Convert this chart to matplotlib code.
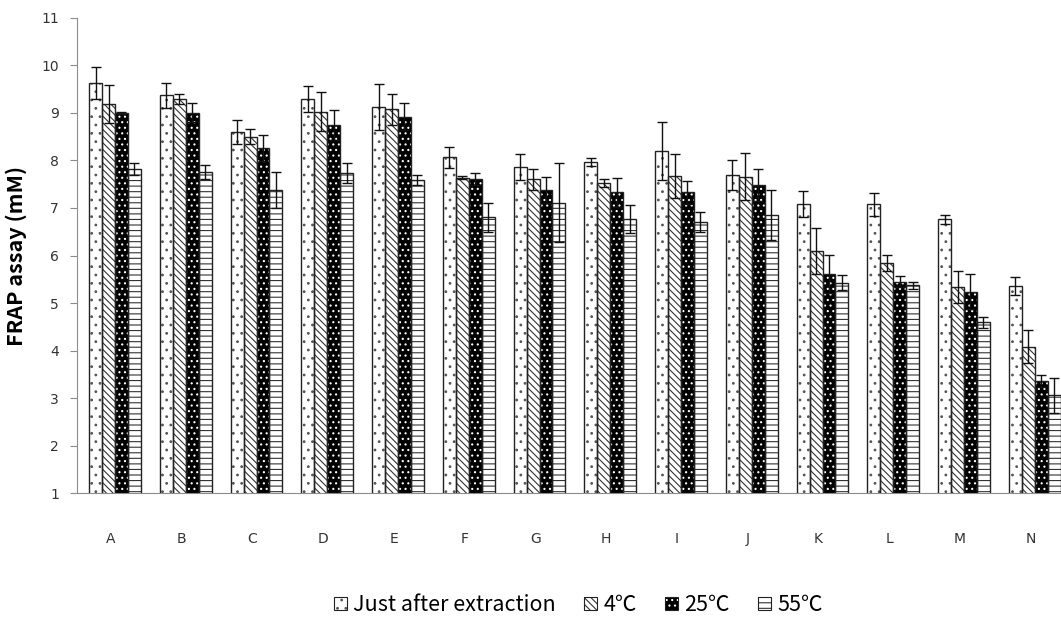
import numpy as np
import matplotlib.pyplot as plt
from matplotlib.patches import Patch
from matplotlib.legend_handler import HandlerTuple
from matplotlib.transforms import ScaledTranslation

plt.rcParams['hatch.linewidth'] = 0.8

# Samples and storage conditions
samples = ["A", "B", "C", "D", "E", "F", "G", "H", "I", "J", "K", "L", "M", "N"]
conditions = ["Just after extraction", "4\u2103", "25\u2103", "55\u2103"]

# FRAP values (mM)
just_after = [9.63, 9.37, 8.60, 9.29, 9.13, 8.07, 7.86, 7.97, 8.20, 7.69, 7.08, 7.08, 6.76, 5.36]
cold_4 = [9.19, 9.29, 8.50, 9.03, 9.08, 7.64, 7.60, 7.52, 7.67, 7.66, 6.10, 5.84, 5.33, 4.08]
room_25 = [9.00, 9.01, 8.26, 8.75, 8.92, 7.61, 7.38, 7.33, 7.33, 7.48, 5.61, 5.45, 5.24, 3.36]
hot_55 = [7.82, 7.76, 7.38, 7.73, 7.59, 6.80, 7.11, 6.77, 6.71, 6.85, 5.43, 5.37, 4.59, 3.06]

# standard deviations
err_just_after = [0.33, 0.26, 0.25, 0.27, 0.49, 0.22, 0.28, 0.09, 0.62, 0.32, 0.28, 0.24, 0.09, 0.19]
err_4 = [0.40, 0.11, 0.16, 0.41, 0.33, 0.03, 0.22, 0.08, 0.47, 0.50, 0.48, 0.17, 0.34, 0.35]
err_25 = [0.03, 0.19, 0.28, 0.32, 0.28, 0.12, 0.28, 0.31, 0.24, 0.34, 0.40, 0.12, 0.37, 0.12]
err_55 = [0.13, 0.15, 0.38, 0.21, 0.11, 0.31, 0.83, 0.30, 0.21, 0.53, 0.15, 0.08, 0.12, 0.37]

series = [just_after, cold_4, room_25, hot_55]
errors = [err_just_after, err_4, err_25, err_55]
# (face, hatch colour, hatch)
styles = [("white", "#555555", ".."),
          ("white", "#333333", "\\\\\\\\\\"),
          ("black", "white", "..."),
          ("white", "#333333", "---")]

fig = plt.figure(figsize=(10.61, 6.2), dpi=100)
ax = fig.add_axes([0.0726, 0.2048, 0.936, 0.7662])

x = np.arange(len(samples))
w = 0.183
for i, (vals, errs, (fc, hc, hatch)) in enumerate(zip(series, errors, styles)):
    pos = x + (i - 1.5) * w
    ax.bar(pos, vals, w, color=fc, edgecolor=hc, hatch=hatch, linewidth=0, zorder=2)
    ax.bar(pos, vals, w, fill=False, edgecolor="#222222", linewidth=1.0, zorder=3)
    ax.errorbar(pos, vals, yerr=errs, fmt="none", ecolor="#111111",
                elinewidth=1.0, capsize=3.5, capthick=1.0, zorder=4)

ax.set_xlim(-0.537, 13.5)
ax.set_ylim(1, 11)
ax.set_yticks(range(1, 12))
ax.set_xticks(x)
ax.set_xticklabels(samples)

for s in ["top", "right"]:
    ax.spines[s].set_visible(False)
ax.spines["left"].set_color("#8c8c8c")
ax.spines["bottom"].set_color("#8c8c8c")
ax.tick_params(axis="y", direction="out", length=5, color="#8c8c8c",
               labelsize=10, labelcolor="#333333", pad=8)
ax.tick_params(axis="x", length=0, labelsize=10, labelcolor="#333333", pad=28)
for lab in ax.get_xticklabels():
    lab.set_transform(lab.get_transform() + ScaledTranslation(-4 / 100, 0, fig.dpi_scale_trans))

ax.set_ylabel("FRAP assay (mM)", fontsize=15.5, fontweight="bold", labelpad=10,
              family=["Noto Sans CJK KR", "DejaVu Sans"])

handles = [Patch(facecolor=fc, edgecolor=hc, hatch=hatch, linewidth=0) for fc, hc, hatch in styles]
handles = [(h, Patch(fill=False, edgecolor="#222222", linewidth=0.8)) for h in handles]
leg = fig.legend(handles, conditions, loc="center", bbox_to_anchor=(0.545, 0.024),
                 ncol=4, frameon=False, handlelength=0.6, handleheight=0.6,
                 handletextpad=0.3, columnspacing=1.3,
                 handler_map={tuple: HandlerTuple(ndivide=1)},
                 prop={"family": ["Noto Sans CJK KR", "DejaVu Sans"], "size": 15.5})

fig.savefig("out.png", dpi=100)
